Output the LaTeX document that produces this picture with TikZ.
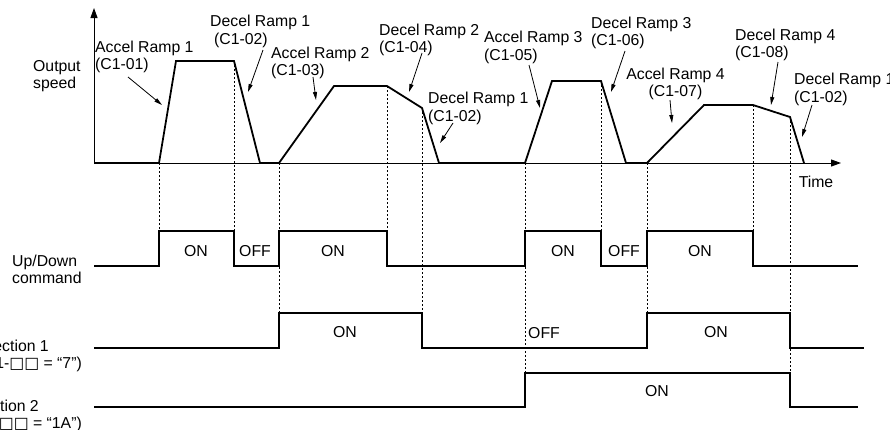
\documentclass[tikz,border=0pt]{standalone}
\usepackage{fontspec}
\setmainfont{Liberation Sans}
\newfontfamily\symfont{DejaVu Sans}
\usetikzlibrary{arrows.meta,positioning}

\newcommand{\boxes}{{\symfont □□}}

\begin{document}
\begin{tikzpicture}[x=1pt,y=-1pt,
  font=\fontsize{15.8}{17.2}\selectfont,
  curve/.style={line width=1.8pt,line join=miter},
  sig/.style={line width=1.4pt},
  guide/.style={line width=0.8pt,dash pattern=on 2pt off 2pt},
  axis/.style={line width=1pt,-{Triangle[length=10pt,width=7pt]}},
  pointer/.style={line width=0.8pt,-{Triangle[length=8pt,width=4pt]}},
  lbl/.style={inner sep=0pt,align=left,anchor=west},
  state/.style={inner sep=0pt}]
\useasboundingbox (0,0) rectangle (890,429);

% axes
\coordinate (o) at (94,163);
\coordinate (ytop) at (94,8);
\coordinate (xend) at (841,163);

% guide lines
\foreach \x/\ya/\yb in {159/163/231, 234/61/231, 279/163/313, 387/86/231,
  422/108/313, 525/163/373, 601/81/231, 647/163/313, 753/105/231, 790/117/373}
  \draw[guide] (\x,\ya) -- (\x,\yb);

\draw[axis] (o) -- (ytop);
\draw[axis] (o) -- (xend);

% output speed
\draw[curve] (94,163) -- (159,163) -- (176,61) -- (234,61) -- (260,163)
  -- (279,163) -- (334,86) -- (387,86) -- (422,108) -- (439,163)
  -- (525,163) -- (552,81) -- (601,81) -- (626,163) -- (647,163)
  -- (704,105) -- (753,105) -- (790,117) -- (804,163);

% signals
\draw[sig] (94,266) -| (159,231) -| (234,266) -| (279,231) -| (387,266)
  -| (525,231) -| (601,266) -| (647,231) -| (753,266) -- (858,266);
\draw[sig] (94,348) -| (279,313) -| (422,348) -| (647,313) -| (790,348) -- (864,348);
\draw[sig] (94,407) -| (525,373) -| (790,407) -- (858,407);

% row labels
\node[lbl] (spd) at (33,76) {Output\\speed};
\node[lbl] (updn) at (12,269) {Up/Down\\command};
\node[inner sep=0pt,align=right,anchor=east] (sel1) at (82,356)
  {Selection 1\hspace*{33pt}\\(H1-\boxes{} = “7”)};
\node[inner sep=0pt,align=right,anchor=east] (sel2) at (82,416)
  {Selection 2\hspace*{43pt}\\(H1-\boxes{} = “1A”)};
\node[state] (time) at (816,182) {Time};

% ramp labels
\node[lbl] (ar1) at (95,57) {Accel Ramp 1\\(C1-01)};
\node[lbl] (dr1a) at (210,31.5) {Decel Ramp 1\\\hspace*{4pt}(C1-02)};
\node[lbl] (ar2) at (271,63) {Accel Ramp 2\\(C1-03)};
\node[lbl] (dr2) at (379,40) {Decel Ramp 2\\(C1-04)};
\node[lbl] (dr1b) at (428,108.5) {Decel Ramp 1\\(C1-02)};
\node[lbl] (ar3) at (484,47.5) {Accel Ramp 3\\(C1-05)};
\node[lbl] (dr3) at (591,33) {Decel Ramp 3\\(C1-06)};
\node[state,align=center] (ar4) at (675.5,84) {Accel Ramp 4\\(C1-07)};
\node[lbl] (dr4) at (735,45) {Decel Ramp 4\\(C1-08)};
\node[lbl] (dr1c) at (794,89.5) {Decel Ramp 1\\(C1-02)};

% pointers
\coordinate (ar1t) at (128,77);  \coordinate (ar1h) at (162,105);
\coordinate (dr1at) at (263,50); \coordinate (dr1ah) at (248,92);
\coordinate (ar2t) at (313,77);  \coordinate (ar2h) at (316,100);
\coordinate (dr2t) at (422,53);  \coordinate (dr2h) at (409,92);
\coordinate (dr1bt) at (453,123); \coordinate (dr1bh) at (440,143);
\coordinate (ar3t) at (529,65);  \coordinate (ar3h) at (540,108);
\coordinate (dr3t) at (625,51);  \coordinate (dr3h) at (611,92);
\coordinate (ar4t) at (670,100); \coordinate (ar4h) at (672,123);
\coordinate (dr4t) at (778,62);  \coordinate (dr4h) at (771,105);
\coordinate (dr1ct) at (812,105); \coordinate (dr1ch) at (802,137);
\path[pointer]
(ar1t) edge (ar1h) (dr1at) edge (dr1ah) (ar2t) edge (ar2h)
(dr2t) edge (dr2h) (dr1bt) edge (dr1bh) (ar3t) edge (ar3h)
(dr3t) edge (dr3h) (ar4t) edge (ar4h) (dr4t) edge (dr4h)
(dr1ct) edge (dr1ch)
;

% states
\node[state] (ud1) at (196,251) {ON};
\node[state] (ud2) at (255,251) {OFF};
\node[state] (ud3) at (333,251) {ON};
\node[state] (ud4) at (563,251) {ON};
\node[state] (ud5) at (624,251) {OFF};
\node[state] (ud6) at (700,251) {ON};
\node[state] (s1a) at (345,332) {ON};
\node[state] (s1b) at (544,333) {OFF};
\node[state] (s1c) at (716,332) {ON};
\node[state] (s2a) at (657,391) {ON};
\end{tikzpicture}
\end{document}
